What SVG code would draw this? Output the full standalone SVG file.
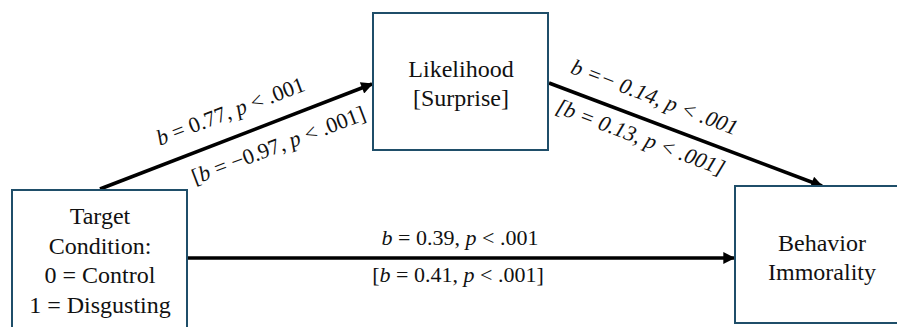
<svg xmlns="http://www.w3.org/2000/svg" width="897" height="327" viewBox="0 0 897 327">
<defs>
<marker id="ah" viewBox="0 0 10 10" refX="9" refY="5" markerWidth="4" markerHeight="3.4" orient="auto" markerUnits="strokeWidth">
<path d="M0,0 L10,5 L0,10 z" fill="#000"/>
</marker>
</defs>
<rect width="897" height="327" fill="#fff"/>
<g id="connectors" stroke="#000" stroke-width="3.5" fill="none" marker-end="url(#ah)">
<line x1="100" y1="189" x2="372" y2="84"/>
<line x1="549" y1="83" x2="822" y2="186"/>
<line x1="188" y1="258" x2="734" y2="258"/>
</g>
<g id="labels" font-family="Liberation Serif, serif" font-size="22" fill="#111" text-anchor="middle">
<text transform="translate(233,118) rotate(-20.7)"><tspan font-style="italic">b</tspan> = 0.77, <tspan font-style="italic">p</tspan> &lt; .001</text>
<text transform="translate(281,152) rotate(-20.7)">[<tspan font-style="italic">b</tspan> = −0.97, <tspan font-style="italic">p</tspan> &lt; .001]</text>
<text font-style="italic" transform="translate(652,104) rotate(20.8)">b =− 0.14, p &lt; .001</text>
<text font-style="italic" transform="translate(638,144) rotate(20.8)">[b = 0.13, p &lt; .001]</text>
<text x="460" y="245"><tspan font-style="italic">b</tspan> = 0.39, <tspan font-style="italic">p</tspan> &lt; .001</text>
<text x="458" y="282">[<tspan font-style="italic">b</tspan> = 0.41, <tspan font-style="italic">p</tspan> &lt; .001]</text>
</g>
<g id="node-target" font-family="Liberation Serif, serif" font-size="24" fill="#111" text-anchor="middle">
<rect x="12" y="190" width="175" height="140" fill="#fff" stroke="#1f4e69" stroke-width="2"/>
<text x="100" y="224">Target</text>
<text x="100" y="254">Condition:</text>
<text x="100" y="283">0 = Control</text>
<text x="100" y="313">1 = Disgusting</text>
</g>
<g id="node-likelihood" font-family="Liberation Serif, serif" font-size="24" fill="#111" text-anchor="middle">
<rect x="373" y="13" width="175" height="137" fill="#fff" stroke="#1f4e69" stroke-width="2"/>
<text x="461" y="77">Likelihood</text>
<text x="461" y="106">[Surprise]</text>
</g>
<g id="node-behavior" font-family="Liberation Serif, serif" font-size="24" fill="#111" text-anchor="middle">
<rect x="735" y="186" width="175" height="137" fill="#fff" stroke="#1f4e69" stroke-width="2"/>
<text x="822" y="251">Behavior</text>
<text x="822" y="280">Immorality</text>
</g>
</svg>
